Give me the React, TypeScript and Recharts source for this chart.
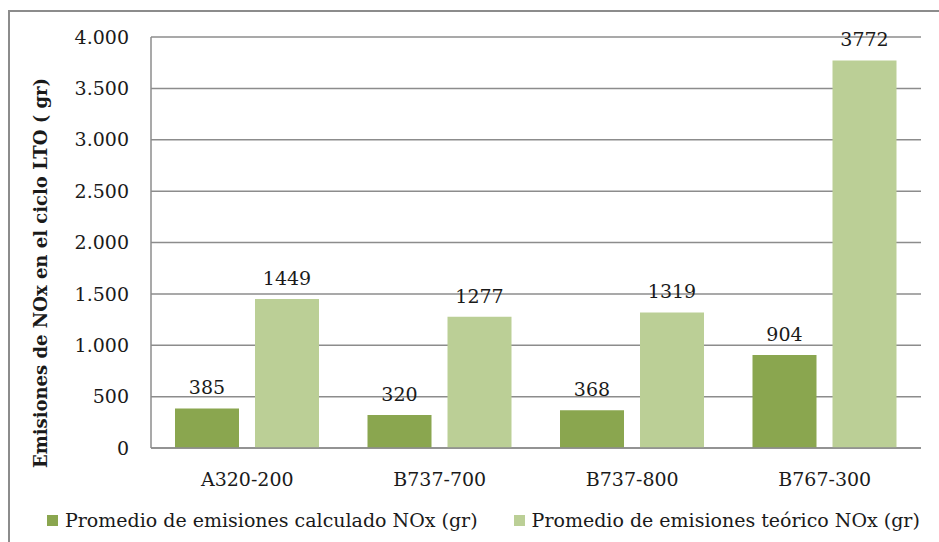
import React from "react";
import {
  BarChart,
  Bar,
  XAxis,
  YAxis,
  CartesianGrid,
  Legend,
  LabelList,
} from "recharts";

const aircraft = ["A320-200", "B737-700", "B737-800", "B767-300"];
const calculado = [385, 320, 368, 904];
const teorico = [1449, 1277, 1319, 3772];
const yTicks = [0, 500, 1000, 1500, 2000, 2500, 3000, 3500, 4000];

const seriesNames = [
  "Promedio de emisiones calculado NOx (gr)",
  "Promedio de emisiones teórico NOx (gr)",
];
const COLORS = ["#8aa64f", "#bbcf96"];

const data = aircraft.map((name, i) => ({
  name,
  calculado: calculado[i],
  teorico: teorico[i],
}));

const FONT = "'DejaVu Serif', serif";
const TEXT = "#1a1a1a";
const GRID = "#8c8c8c";

// 4000 -> "4.000"
const fmt = (v: number) => String(v).replace(/\B(?=(\d{3})+(?!\d))/g, ".");

const renderLegend = () => (
  <div style={{ display: "flex", fontFamily: FONT, fontSize: 19, color: TEXT }}>
    {seriesNames.map((s, i) => (
      <div
        key={s}
        style={{
          display: "flex",
          alignItems: "center",
          marginRight: i === 0 ? 36 : 0,
        }}
      >
        <span
          style={{
            display: "inline-block",
            width: 11,
            height: 11,
            background: COLORS[i],
            marginRight: 7,
          }}
        />
        <span>{s}</span>
      </div>
    ))}
  </div>
);

const renderYLabel = () => (
  <text
    x={40}
    y={273}
    transform="rotate(-90 40 273)"
    textAnchor="middle"
    dominantBaseline="central"
    fontFamily={FONT}
    fontSize={18}
    fontWeight="bold"
    fill={TEXT}
  >
    Emisiones de NOx en el ciclo LTO ( gr)
  </text>
);

export default function App() {
  return (
    <div
      style={{
        position: "absolute",
        left: 0,
        top: 0,
        width: 939,
        height: 542,
        background: "#fff",
        overflow: "hidden",
      }}
    >
      <div
        style={{
          position: "absolute",
          left: 8,
          top: 10,
          width: 929,
          height: 540,
          border: "2px solid #8c8c8c",
        }}
      />
      <BarChart
        width={939}
        height={542}
        data={data}
        margin={{ top: 37, right: 18, bottom: 42, left: 0 }}
        barSize={64}
        barGap={16}
        style={{ position: "absolute", left: 0, top: 0 }}
      >
        <CartesianGrid
          vertical={false}
          stroke={GRID}
          strokeWidth={1.5}
        />
        <XAxis
          dataKey="name"
          axisLine={{ stroke: GRID, strokeWidth: 1.5 }}
          tickLine={false}
          tickSize={0}
          tickMargin={25}
          tick={{ fontFamily: FONT, fontSize: 19, fill: TEXT }}
        />
        <YAxis
          width={151}
          domain={[0, 4000]}
          ticks={yTicks}
          interval={0}
          tickFormatter={fmt}
          axisLine={{ stroke: GRID, strokeWidth: 1.5 }}
          tickLine={false}
          tickSize={0}
          tickMargin={22}
          tick={{ fontFamily: FONT, fontSize: 19, fill: TEXT }}
          label={{ content: renderYLabel }}
        />
        <Legend
          content={renderLegend}
          verticalAlign="bottom"
          wrapperStyle={{ left: 47, top: 509, width: "auto" }}
        />
        <Bar
          dataKey="calculado"
          name={seriesNames[0]}
          fill={COLORS[0]}
          isAnimationActive={false}
        >
          <LabelList
            dataKey="calculado"
            position="top"
            offset={14}
            style={{ fontFamily: FONT, fontSize: 19, fill: TEXT }}
          />
        </Bar>
        <Bar
          dataKey="teorico"
          name={seriesNames[1]}
          fill={COLORS[1]}
          isAnimationActive={false}
        >
          <LabelList
            dataKey="teorico"
            position="top"
            offset={14}
            style={{ fontFamily: FONT, fontSize: 19, fill: TEXT }}
          />
        </Bar>
      </BarChart>
    </div>
  );
}
